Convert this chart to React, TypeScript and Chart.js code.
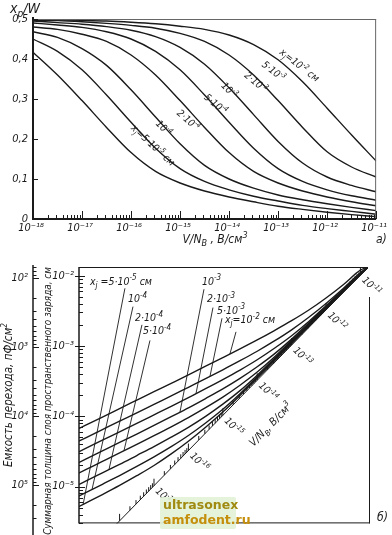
import React, { useEffect, useRef } from 'react';
import { Chart, registerables } from 'chart.js';
Chart.register(...registerables);

const FONT = '"Liberation Sans Narrow", "DejaVu Sans Condensed", "DejaVu Sans", sans-serif';
const INK = '#1a1a1a';

// ---------------- Panel а : x_p/W vs V/N_B ----------------
const topGridExp = [-18, -17.5, -17, -16.5, -16, -15.5, -15, -14.5, -14, -13.5, -13, -12.5, -12, -11.5, -11];
const topRatio5e5 = [0.417, 0.36, 0.296, 0.229, 0.166, 0.119, 0.09, 0.07, 0.055, 0.043, 0.032, 0.024, 0.017, 0.011, 0.006];
const topRatio1e4 = [0.45, 0.419, 0.373, 0.31, 0.242, 0.177, 0.126, 0.094, 0.073, 0.057, 0.045, 0.034, 0.026, 0.019, 0.012];
const topRatio2e4 = [0.468, 0.454, 0.426, 0.384, 0.323, 0.255, 0.188, 0.134, 0.1, 0.077, 0.06, 0.048, 0.038, 0.029, 0.021];
const topRatio5e4 = [0.48, 0.474, 0.462, 0.444, 0.41, 0.36, 0.296, 0.229, 0.166, 0.119, 0.09, 0.07, 0.055, 0.043, 0.033];
const topRatio1e3 = [0.49, 0.485, 0.479, 0.468, 0.45, 0.419, 0.373, 0.31, 0.242, 0.177, 0.126, 0.094, 0.073, 0.058, 0.047];
const topRatio2e3 = [0.495, 0.491, 0.487, 0.481, 0.472, 0.456, 0.429, 0.387, 0.328, 0.261, 0.194, 0.14, 0.105, 0.084, 0.068];
const topRatio5e3 = [0.497, 0.496, 0.493, 0.489, 0.484, 0.477, 0.464, 0.444, 0.41, 0.36, 0.296, 0.229, 0.168, 0.13, 0.105];
const topRatio1e2 = [0.498, 0.4975, 0.4965, 0.495, 0.492, 0.488, 0.482, 0.474, 0.46, 0.436, 0.398, 0.343, 0.277, 0.21, 0.145];
const topSeries = [topRatio5e5, topRatio1e4, topRatio2e4, topRatio5e4, topRatio1e3, topRatio2e3, topRatio5e3, topRatio1e2];

const topXjText = ['x_{j}=5·10^{-5} см', '10^{-4}', '2·10^{-4}', '5·10^{-4}', '10^{-3}', '2·10^{-3}', '5·10^{-3}', 'x_{j}=10^{-2} см'];
const topLabelLogV = [-15.55, -15.33, -14.83, -14.27, -13.99, -13.45, -13.09, -12.56];
const topLabelVal = [0.185, 0.2275, 0.2475, 0.2875, 0.3225, 0.3425, 0.37, 0.385];
const topLabelAngle = [43, 45, 41, 40, 45, 40, 38, 38];

const topXTickExp = [-18, -17, -16, -15, -14, -13, -12, -11];
const topXTickLabels = ['10⁻¹⁸', '10⁻¹⁷', '10⁻¹⁶', '10⁻¹⁵', '10⁻¹⁴', '10⁻¹³', '10⁻¹²', '10⁻¹¹'];
const topYTicks = [0, 0.1, 0.2, 0.3, 0.4, 0.5];
const topYTickLabels = ['0', '0,1', '0,2', '0,3', '0,4', '0,5'];

// ---------------- Panel б : nomogram ----------------
const botGridExp = [-19.5, -19, -18.5, -18, -17.5, -17, -16.5, -16, -15.5, -15, -14.5, -14, -13.5, -13, -12.5, -12, -11.5, -11, -10.78];
const botW5e5 = [4.34e-6, 5.78e-6, 7.71e-6, 1.04e-5, 1.43e-5, 2.0e-5, 2.92e-5, 4.42e-5, 7.0e-5, 1.15e-4, 1.98e-4, 3.48e-4, 6.13e-4, 1.08e-3, 1.9e-3, 3.34e-3, 5.88e-3, 1.035e-2, 1.33e-2];
const botW1e4 = [6.15e-6, 8.13e-6, 1.08e-5, 1.44e-5, 1.94e-5, 2.65e-5, 3.7e-5, 5.33e-5, 8.04e-5, 1.26e-4, 2.1e-4, 3.66e-4, 6.4e-4, 1.12e-3, 1.95e-3, 3.4e-3, 5.94e-3, 1.038e-2, 1.33e-2];
const botW2e4 = [8.95e-6, 1.19e-5, 1.57e-5, 2.07e-5, 2.77e-5, 3.71e-5, 5.05e-5, 6.98e-5, 1.0e-4, 1.49e-4, 2.32e-4, 3.85e-4, 6.67e-4, 1.156e-3, 2.0e-3, 3.47e-3, 6.01e-3, 1.042e-2, 1.33e-2];
const botW5e4 = [1.31e-5, 1.73e-5, 2.28e-5, 3.01e-5, 4.0e-5, 5.31e-5, 7.1e-5, 9.61e-5, 1.33e-4, 1.88e-4, 2.77e-4, 4.26e-4, 6.97e-4, 1.197e-3, 2.056e-3, 3.54e-3, 6.08e-3, 1.046e-2, 1.33e-2];
const botW1e3 = [1.85e-5, 2.44e-5, 3.22e-5, 4.25e-5, 5.6e-5, 7.43e-5, 9.91e-5, 1.32e-4, 1.79e-4, 2.45e-4, 3.46e-4, 5.07e-4, 7.73e-4, 1.253e-3, 2.13e-3, 3.63e-3, 6.17e-3, 1.05e-2, 1.33e-2];
const botW2e3 = [2.63e-5, 3.47e-5, 4.57e-5, 6.03e-5, 7.94e-5, 1.05e-4, 1.39e-4, 1.85e-4, 2.47e-4, 3.33e-4, 4.55e-4, 6.38e-4, 9.29e-4, 1.4e-3, 2.23e-3, 3.74e-3, 6.3e-3, 1.07e-2, 1.33e-2];
const botW5e3 = [3.72e-5, 4.91e-5, 6.47e-5, 8.53e-5, 1.12e-4, 1.48e-4, 1.95e-4, 2.59e-4, 3.44e-4, 4.59e-4, 6.18e-4, 8.43e-4, 1.18e-3, 1.7e-3, 2.56e-3, 4.02e-3, 6.56e-3, 1.11e-2, 1.33e-2];
const botW1e2 = [5.62e-5, 7.41e-5, 9.77e-5, 1.29e-4, 1.7e-4, 2.24e-4, 2.95e-4, 3.89e-4, 5.16e-4, 6.84e-4, 9.1e-4, 1.22e-3, 1.66e-3, 2.29e-3, 3.25e-3, 4.82e-3, 7.45e-3, 1.2e-2, 1.33e-2];
const botSeries = [botW5e5, botW1e4, botW2e4, botW5e4, botW1e3, botW2e3, botW5e3, botW1e2];

// leader lines: from label (top) down to the curve
const leaderTopV = [1.43e-18, 2.45e-18, 4.47e-18, 7.64e-18, 2.84e-16, 5.18e-16, 9.46e-16, 2.42e-15];
const leaderTopW = [6.62e-3, 3.63e-3, 2.0e-3, 1.2e-3, 6.42e-3, 3.52e-3, 2.48e-3, 1.59e-3];
const leaderEndV = [8.7e-20, 1.58e-19, 4.9e-19, 1.34e-18, 5.69e-17, 1.66e-16, 4.24e-16, 1.61e-15];
const leaderEndW = [5.57e-6, 9.1e-6, 1.74e-5, 3.24e-5, 1.15e-4, 2.1e-4, 3.71e-4, 7.71e-4];
const botXjText = ['x_{j} =5·10^{-5} см', '10^{-4}', '2·10^{-4}', '5·10^{-4}', '10^{-3}', '2·10^{-3}', '5·10^{-3}', 'x_{j}=10^{-2} см'];
const leaderDx = [-35, -5, -7, -7, -2, -6, -5, -11];
const leaderDy = [-7, -8, -7, -10, -8, -9, -8, -12];

// abrupt-junction line (diagonal V/N_B scale)
const stepV = [1e-19, 1e-18, 1e-11, 1.67e-11];
const stepW = [1.03e-6, 3.26e-6, 1.03e-2, 1.33e-2];
const diagExp = [-18, -17, -16, -15, -14, -13, -12, -11];
const diagLabelExp = [-17, -16, -15, -14, -13, -12, -11];

const botWTicks = [1e-2, 1e-3, 1e-4, 1e-5];
const botWTickLabels = ['10⁻²', '10⁻³', '10⁻⁴', '10⁻⁵'];
const botWMinorExp = [-6, -5, -4, -3, -2];
const botCTicks = [1e2, 1e3, 1e4, 1e5];
const botCTickLabels = ['10²', '10³', '10⁴', '10⁵'];
const botCMinorExp = [1, 2, 3, 4, 5];

// ---------------- helpers ----------------
type Seg = { t: string; k: number };
function parseRich(s: string): Seg[] {
  const segs: Seg[] = [];
  let buf = '';
  let i = 0;
  while (i < s.length) {
    const c = s[i];
    if ((c === '^' || c === '_') && s[i + 1] === '{') {
      if (buf) { segs.push({ t: buf, k: 0 }); buf = ''; }
      const end = s.indexOf('}', i);
      segs.push({ t: s.slice(i + 2, end), k: c === '^' ? 1 : -1 });
      i = end + 1;
    } else { buf += c; i++; }
  }
  if (buf) segs.push({ t: buf, k: 0 });
  return segs;
}
function fontFor(size: number, k: number) {
  return `italic ${k === 0 ? size : Math.round(size * 0.72)}px ${FONT}`;
}
function measureRich(ctx: CanvasRenderingContext2D, s: string, size: number) {
  let w = 0;
  for (const g of parseRich(s)) { ctx.font = fontFor(size, g.k); w += ctx.measureText(g.t).width; }
  return w;
}
function drawRich(ctx: CanvasRenderingContext2D, s: string, x: number, y: number, size: number, align: string) {
  const w = measureRich(ctx, s, size);
  let cx = align === 'left' ? x : align === 'center' ? x - w / 2 : x - w;
  ctx.textAlign = 'left';
  ctx.textBaseline = 'alphabetic';
  for (const g of parseRich(s)) {
    ctx.font = fontFor(size, g.k);
    const dy = g.k === 1 ? -size * 0.42 : g.k === -1 ? size * 0.28 : 0;
    ctx.fillText(g.t, cx, y + dy);
    cx += ctx.measureText(g.t).width;
  }
  return w;
}
function seg(ctx: CanvasRenderingContext2D, x1: number, y1: number, x2: number, y2: number) {
  ctx.beginPath(); ctx.moveTo(x1, y1); ctx.lineTo(x2, y2); ctx.stroke();
}

const tickFont = { family: FONT, style: 'italic' as const, size: 11 };
const noGrid = { display: false, drawTicks: false };

// ---------------- plugins ----------------
const topDecor = {
  id: 'topDecor',
  afterDraw(chart: any) {
    const { ctx, chartArea: a, scales } = chart;
    const xs = scales.x, ys = scales.y;
    ctx.save();
    ctx.strokeStyle = '#666'; ctx.lineWidth = 1;
    seg(ctx, a.left, a.top + 0.5, a.right, a.top + 0.5);
    seg(ctx, a.right - 0.5, a.top, a.right - 0.5, a.bottom);
    ctx.strokeStyle = INK; ctx.lineWidth = 2;
    seg(ctx, a.left, a.top - 2, a.left, a.bottom + 1);
    seg(ctx, a.left - 1, a.bottom, a.right, a.bottom);
    ctx.lineWidth = 1;
    topYTicks.forEach(v => {
      const y = Math.round(ys.getPixelForValue(v)) + 0.5;
      seg(ctx, a.left, y, a.left + 5, y);
    });
    topXTickExp.forEach((e, i) => {
      for (let m = 1; m <= 9; m++) {
        if (m > 1 && i === topXTickExp.length - 1) break;
        const x = Math.round(xs.getPixelForValue(m * Math.pow(10, e))) + 0.5;
        seg(ctx, x, a.bottom, x, a.bottom - (m === 1 ? 8 : 4));
      }
    });
    ctx.fillStyle = INK;
    topXjText.forEach((t, i) => {
      const px = xs.getPixelForValue(Math.pow(10, topLabelLogV[i]));
      const py = ys.getPixelForValue(topLabelVal[i]);
      ctx.save();
      ctx.translate(px, py);
      ctx.rotate(topLabelAngle[i] * Math.PI / 180);
      drawRich(ctx, t, 0, 3.5, 10, 'center');
      ctx.restore();
    });
    drawRich(ctx, 'x_{p}/W', 10, 13, 14, 'left');
    drawRich(ctx, 'V/N_{B} , В/см^{3}', 215, 243, 12, 'center');
    drawRich(ctx, 'а)', 376, 243, 12, 'left');
    ctx.restore();
  },
};

const botDecor = {
  id: 'botDecor',
  afterDraw(chart: any) {
    const { ctx, chartArea: a, scales } = chart;
    const xs = scales.x, yw = scales.yW, yc = scales.yC;
    ctx.save();
    ctx.strokeStyle = INK; ctx.fillStyle = INK;
    // frame
    ctx.lineWidth = 1.5;
    seg(ctx, a.left, a.top, a.left, a.bottom);
    ctx.lineWidth = 1;
    seg(ctx, a.left, a.top + 0.5, a.right, a.top + 0.5);
    seg(ctx, a.left, a.bottom - 0.5, a.right + 2, a.bottom - 0.5);
    seg(ctx, a.right + 1.5, a.top + 30, a.right + 1.5, a.bottom);
    // outer capacitance axis
    const ox = 33;
    ctx.lineWidth = 1.5;
    seg(ctx, ox, a.top - 2, ox, chart.height);
    ctx.lineWidth = 1;
    botCMinorExp.forEach(e => {
      for (let m = 1; m <= 9; m++) {
        const v = m * Math.pow(10, e);
        if (v < yc.min || v > yc.max) continue;
        const y = Math.round(yc.getPixelForValue(v)) + 0.5;
        seg(ctx, ox, y, ox + (m === 1 ? 6 : 3.5), y);
      }
    });
    // inner thickness axis
    botWMinorExp.forEach(e => {
      for (let m = 1; m <= 9; m++) {
        const v = m * Math.pow(10, e);
        if (v < yw.min || v > yw.max) continue;
        const y = Math.round(yw.getPixelForValue(v)) + 0.5;
        if (m === 1) seg(ctx, a.left - 4, y, a.left + 6, y);
        else seg(ctx, a.left, y, a.left + 4, y);
      }
    });
    // diagonal V/N_B scale
    const p0 = { x: xs.getPixelForValue(stepV[1]), y: yw.getPixelForValue(stepW[1]) };
    const p1 = { x: xs.getPixelForValue(stepV[2]), y: yw.getPixelForValue(stepW[2]) };
    const e0 = Math.log10(stepV[1]), e1 = Math.log10(stepV[2]);
    const at = (e: number) => {
      const t = (e - e0) / (e1 - e0);
      return { x: p0.x + t * (p1.x - p0.x), y: p0.y + t * (p1.y - p0.y) };
    };
    const ang = Math.atan2(p1.y - p0.y, p1.x - p0.x);
    const nx = -Math.sin(ang), ny = Math.cos(ang);
    ctx.save();
    ctx.beginPath(); ctx.rect(a.left, a.top, a.right - a.left, a.bottom - a.top); ctx.clip();
    diagExp.forEach(e => {
      for (let m = 1; m <= 9; m++) {
        const le = e + Math.log10(m);
        if (le > -10.8) break;
        const p = at(le);
        seg(ctx, p.x, p.y, p.x, p.y - (m === 1 ? 7 : 4));
      }
    });
    ctx.restore();
    diagLabelExp.forEach(e => {
      const p = at(e);
      ctx.save();
      ctx.translate(p.x + nx * 5, p.y + ny * 5);
      ctx.rotate(ang + Math.PI / 2);
      drawRich(ctx, '10^{' + e + '}', 0, 3.5, 10, 'left');
      ctx.restore();
    });
    {
      const p = at(-14.45);
      ctx.save();
      ctx.translate(p.x + nx * 40, p.y + ny * 40);
      ctx.rotate(ang);
      drawRich(ctx, 'V/N_{B}, В/см^{3}', 0, 4, 11, 'center');
      ctx.restore();
    }
    // leader labels
    botXjText.forEach((t, i) => {
      const px = xs.getPixelForValue(leaderTopV[i]);
      const py = yw.getPixelForValue(leaderTopW[i]);
      drawRich(ctx, t, px + leaderDx[i], py + leaderDy[i] + 3.5, 10.5, 'left');
    });
    // axis titles
    ctx.save();
    ctx.translate(8, 145); ctx.rotate(-Math.PI / 2);
    drawRich(ctx, 'Емкость перехода, пФ/см^{2}', 0, 4, 11.5, 'center');
    ctx.restore();
    const t2 = 'Суммарная толщина слоя пространственного заряда, см';
    const fs = 10 * 268 / measureRich(ctx, t2, 10);
    ctx.save();
    ctx.translate(47, 151); ctx.rotate(-Math.PI / 2);
    drawRich(ctx, t2, 0, 4, fs, 'center');
    ctx.restore();
    drawRich(ctx, 'б)', 377, 271, 12, 'left');
    ctx.restore();
  },
};

function makeTopConfig(): any {
  const datasets = topSeries.map(vals => ({
    data: vals.map((v, i) => ({ x: Math.pow(10, topGridExp[i]), y: v })),
    borderColor: INK, borderWidth: 1.4, pointRadius: 0,
    cubicInterpolationMode: 'monotone', clip: 0,
  }));
  return {
    type: 'line',
    data: { datasets },
    options: {
      animation: false, responsive: false, devicePixelRatio: 1, events: [],
      layout: { padding: { top: 19, right: 10, left: 0, bottom: 0 }, autoPadding: false },
      plugins: { legend: { display: false }, tooltip: { enabled: false } },
      scales: {
        x: {
          type: 'logarithmic', min: 1e-18, max: 1e-11,
          grid: noGrid, border: { display: false },
          afterBuildTicks: (s: any) => { s.ticks = topXTickExp.map(e => ({ value: Math.pow(10, e) })); },
          afterFit: (s: any) => { s.height = 31; },
          ticks: { callback: (_v: any, i: number) => topXTickLabels[i], font: tickFont, color: INK, padding: 3, autoSkip: false, maxRotation: 0, labelOffset: -2 },
        },
        y: {
          type: 'linear', min: 0, max: 0.5,
          grid: noGrid, border: { display: false },
          afterBuildTicks: (s: any) => { s.ticks = topYTicks.map(v => ({ value: v })); },
          afterFit: (s: any) => { s.width = 33; },
          ticks: { callback: (_v: any, i: number) => topYTickLabels[i], font: tickFont, color: INK, padding: 5 },
        },
      },
    },
    plugins: [topDecor],
  };
}

function makeBotConfig(): any {
  const curves = botSeries.map(vals => ({
    data: vals.map((w, i) => ({ x: Math.pow(10, botGridExp[i]), y: w })),
    borderColor: INK, borderWidth: 1.4, pointRadius: 0, yAxisID: 'yW',
    cubicInterpolationMode: 'monotone', clip: 0,
  }));
  const leaders = leaderTopV.map((_v, i) => ({
    data: [{ x: leaderEndV[i], y: leaderEndW[i] }, { x: leaderTopV[i], y: leaderTopW[i] }],
    borderColor: INK, borderWidth: 0.9, pointRadius: 0, yAxisID: 'yW', tension: 0, clip: 0,
  }));
  const diag = {
    data: stepV.map((v, i) => ({ x: v, y: stepW[i] })),
    borderColor: INK, borderWidth: 1, pointRadius: 0, yAxisID: 'yW', tension: 0, clip: 0,
  };
  return {
    type: 'line',
    data: { datasets: [...curves, ...leaders, diag] },
    options: {
      animation: false, responsive: false, devicePixelRatio: 1, events: [],
      layout: { padding: { top: 17, right: 24, left: 0, bottom: 3 }, autoPadding: false },
      plugins: { legend: { display: false }, tooltip: { enabled: false } },
      scales: {
        x: { type: 'logarithmic', display: false, min: 6.61e-20, max: 1.66e-11 },
        yW: {
          type: 'logarithmic', position: 'left', weight: 0, min: 3.0e-6, max: 1.33e-2,
          grid: noGrid, border: { display: false },
          afterBuildTicks: (s: any) => { s.ticks = botWTicks.map(v => ({ value: v })); },
          afterFit: (s: any) => { s.width = 46; },
          ticks: { callback: (_v: any, i: number) => botWTickLabels[i], font: tickFont, color: INK, padding: 5 },
        },
        yC: {
          type: 'logarithmic', position: 'left', weight: 1, min: 70, max: 3.64e5, reverse: true,
          grid: noGrid, border: { display: false },
          afterBuildTicks: (s: any) => { s.ticks = botCTicks.map(v => ({ value: v })); },
          afterFit: (s: any) => { s.width = 33; },
          ticks: { callback: (_v: any, i: number) => botCTickLabels[i], font: tickFont, color: INK, padding: 5 },
        },
      },
    },
    plugins: [botDecor],
  };
}

export default function App() {
  const topRef = useRef<HTMLCanvasElement>(null);
  const botRef = useRef<HTMLCanvasElement>(null);
  useEffect(() => {
    const c1 = new Chart(topRef.current as HTMLCanvasElement, makeTopConfig());
    const c2 = new Chart(botRef.current as HTMLCanvasElement, makeBotConfig());
    return () => { c1.destroy(); c2.destroy(); };
  }, []);
  return (
    <div style={{ position: 'absolute', left: 0, top: 0, width: 392, height: 535, background: '#fff', overflow: 'hidden' }}>
      <canvas ref={topRef} width={392} height={250} style={{ position: 'absolute', left: 0, top: 0, width: 392, height: 250 }} />
      <canvas ref={botRef} width={392} height={285} style={{ position: 'absolute', left: 0, top: 250, width: 392, height: 285 }} />
      <div style={{ position: 'absolute', left: 160, top: 497, width: 76, height: 32, background: 'rgba(226,242,214,0.92)', borderRadius: 2, font: 'bold 12.5px "DejaVu Sans", sans-serif', lineHeight: '15px', paddingLeft: 3, boxSizing: 'border-box' }}>
        <div style={{ color: '#a08a12' }}>ultrasonex</div>
        <div style={{ color: '#c58f0c' }}>amfodent.ru</div>
      </div>
    </div>
  );
}
